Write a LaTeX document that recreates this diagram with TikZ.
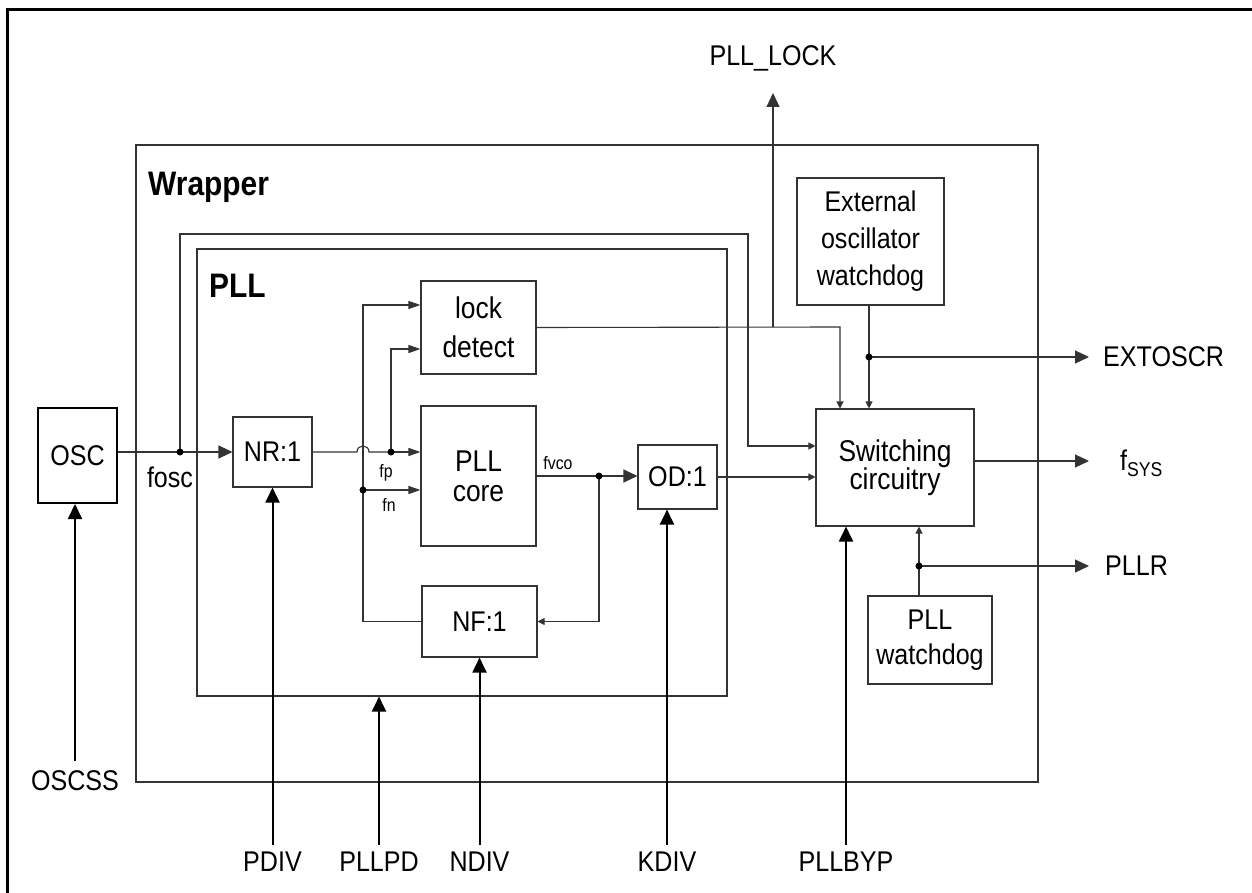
\documentclass[tikz,border=0pt]{standalone}
\usepackage{fontspec}
\setmainfont{Liberation Sans}[FakeStretch=0.88]
\usetikzlibrary{arrows.meta}
\newcommand\msz{\fontsize{28.5}{34}\selectfont}
\newcommand\lsz{\fontsize{30}{34}\selectfont}
\newcommand\ssz{\fontsize{18}{20}\selectfont}
\newcommand\bsz{\fontsize{34}{38}\selectfont\bfseries}
\begin{document}
\begin{tikzpicture}[x=1pt,y=-1pt,
  box/.style={draw=black!80, line width=1.1pt, inner sep=0pt, align=center, font=\msz},
  frame/.style={draw=black!80, line width=1.1pt, inner sep=0pt},
  conn/.style={draw=black!80, line width=1.1pt},
  big/.style={-{Triangle[length=14pt,width=13pt]}},
  mid/.style={-{Triangle[length=12pt,width=8pt]}},
  sml/.style={-{Triangle[length=7pt,width=7pt]}},
  inp/.style={draw=black, line width=2pt, -{Triangle[length=15pt,width=14pt]}},
  jdot/.style={circle, fill=black, inner sep=0pt, minimum size=7pt},
  lbl/.style={font=\msz, inner sep=0pt},
  slbl/.style={font=\ssz, inner sep=0pt}]
\useasboundingbox (0,0) rectangle (1252,893);
% outer frame (top and left only)
\draw[line width=3pt] (7,893) -- (7,10) -- (1252,10);

% containers
\node[frame, minimum width=902pt, minimum height=637pt] (wrap) at (587,463.5) {};
\node[frame, minimum width=530pt, minimum height=447pt] (pll) at (462,472.5) {};
\node[anchor=base west, inner sep=0pt, font=\bsz] (wraplbl) at (148,196) {Wrapper};
\node[anchor=base west, inner sep=0pt, font=\bsz] (plllbl) at (209,297) {PLL};

% blocks
\node[box, draw=black, line width=2pt, minimum width=79pt, minimum height=95pt] (osc) at (77.5,455.5) {OSC};
\node[box, minimum width=79pt, minimum height=70pt] (nr) at (272.5,452) {NR:1};
\node[box, font=\lsz, minimum width=115pt, minimum height=93pt] (lock) at (478.5,327.5) {lock\\[5pt]detect};
\node[box, font=\lsz, minimum width=115pt, minimum height=140pt] (core) at (478.5,476) {PLL\\[-4pt]core};
\node[box, minimum width=115pt, minimum height=71pt] (nf) at (479.5,621.5) {NF:1};
\node[box, minimum width=79pt, minimum height=64pt] (od) at (677.5,477) {OD:1};
\node[box, font=\lsz, minimum width=158pt, minimum height=117pt] (sw) at (895,467.5) {Switching\\[-6pt]circuitry};
\node[box, minimum width=147pt, minimum height=127pt] (eow) at (870.5,241.5) {External\\[3pt]oscillator\\[3pt]watchdog};
\node[box, minimum width=124pt, minimum height=88pt] (pwd) at (930,640) {PLL\\[1pt]watchdog};

% junctions and corner points
\coordinate (fj) at (180,452);
\coordinate (bp1) at (180,234);
\coordinate (bp2) at (748,234);
\coordinate (bp3) at (748,446);
\coordinate (rj) at (391,452);
\coordinate (rj2) at (391,349);
\coordinate (nj) at (363,490);
\coordinate (fbk) at (363,305);
\coordinate (vj) at (599,476);
\coordinate (lk0) at (773,327);
\coordinate (lk1) at (840,327);
\coordinate (lktip) at (773,93);
\coordinate (ej) at (869,357);
\coordinate (etip) at (1089,357);
\coordinate (ftip) at (1089,461);
\coordinate (pj) at (919,566);
\coordinate (ptip) at (1089,566);

% labels
\node[lbl] (fosc) at (170,477) {fosc};
\node[slbl] (fp) at (386,473) {fp};
\node[slbl] (fn) at (389,505) {fn};
\node[slbl] (fvco) at (558,463) {fvco};
\node[lbl] (plllock) at (773,58) {PLL\_LOCK};
\node[lbl, anchor=west] (extoscr) at (1103,357) {EXTOSCR};
\node[lbl, anchor=west] (fsys) at (1120,463) {f\raisebox{-6pt}{\fontsize{20}{22}\selectfont SYS}};
\node[lbl, anchor=west] (pllr) at (1105,566) {PLLR};
\node[lbl] (oscss) at (75,781) {OSCSS};
\node[lbl] (pdiv) at (272.5,862) {PDIV};
\node[lbl] (pllpd) at (379,862) {PLLPD};
\node[lbl] (ndiv) at (479.5,862) {NDIV};
\node[lbl] (kdiv) at (667,862) {KDIV};
\node[lbl] (pllbyp) at (846,862) {PLLBYP};

% connectors
\draw[conn,big] (osc.east |- fj) -- (fj) -- (fj -| nr.west);
\draw[conn,sml] (fj) -- (bp1) -- (bp2) -- (bp3) -- (bp3 -| sw.west);
\draw[conn] (nr.east |- rj) -- (357,452) .. controls (357,444) and (369,444) .. (369,452) -- (rj);
\draw[conn,mid] (rj) -- (rj -| core.west);
\draw[conn,mid] (rj) -- (rj2) -- (rj2 -| lock.west);
\draw[conn,mid] (nf.west) -| (fbk) -- (fbk -| lock.west);
\draw[conn,mid] (nj) -- (nj -| core.west);
\draw[conn] (core.east |- vj) -- (vj);
\draw[conn,big] (vj) -- (vj -| od.west);
\draw[conn,sml] (vj) |- (nf.east);
\draw[conn,sml] (od.east) -- (od.east -| sw.west);
\draw[conn,sml] (lock.east) -- (lk1) -- (lk1 |- sw.north);
\draw[conn,big] (lk0) -- (lktip);
\draw[conn,sml] (ej |- eow.south) -- (ej |- sw.north);
\draw[conn,big] (ej) -- (etip);
\draw[conn,big] (sw.east |- ftip) -- (ftip);
\draw[conn,sml] (pj |- pwd.north) -- (pj |- sw.south);
\draw[conn,big] (pj) -- (ptip);

% dots
\node[jdot] (d1) at (fj) {};
\node[jdot] (d2) at (rj) {};
\node[jdot] (d3) at (nj) {};
\node[jdot] (d4) at (vj) {};
\node[jdot] (d5) at (ej) {};
\node[jdot] (d6) at (pj) {};

% inputs
\draw[inp] ([yshift=10pt]oscss.north) -- (oscss |- osc.south);
\draw[inp] ([yshift=7pt]pdiv.north) -- (nr.south);
\draw[inp] ([yshift=7pt]pllpd.north) -- (pllpd |- pll.south);
\draw[inp] ([yshift=7pt]ndiv.north) -- (nf.south);
\draw[inp] ([yshift=7pt]kdiv.north) -- (kdiv |- od.south);
\draw[inp] ([yshift=7pt]pllbyp.north) -- (pllbyp |- sw.south);
\end{tikzpicture}
\end{document}
